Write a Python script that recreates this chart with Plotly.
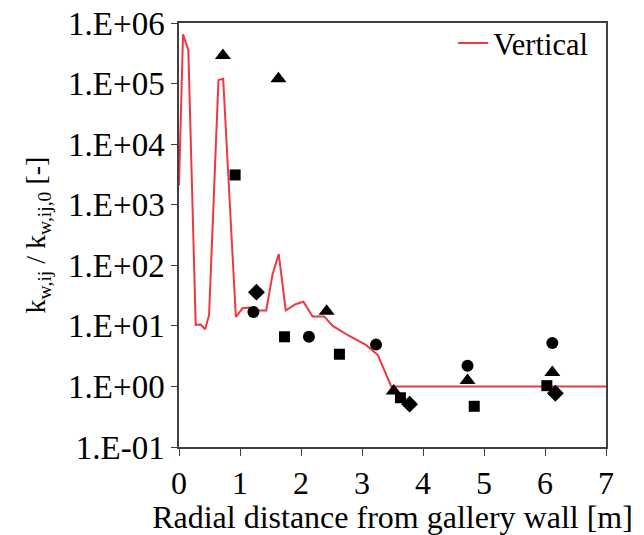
import plotly.graph_objects as go

# Red "Vertical" line (radial distance [m], k ratio [-])
line_x = [0.0, 0.066, 0.153, 0.274, 0.356, 0.428, 0.493, 0.647, 0.724, 0.932, 1.04, 1.15,
          1.26, 1.43, 1.535, 1.635, 1.75, 1.92, 2.04, 2.19, 2.38, 2.52, 2.77, 3.07, 3.26,
          3.48, 7.0]
line_y = [2100, 6.5e5, 3.6e5, 10.4, 10.5, 8.8, 15, 1.14e5, 1.2e5, 14, 19.5, 20,
          18, 18, 72, 153, 18, 23, 25, 14.3, 14.3, 10, 7.0, 4.8, 3.3,
          1.0, 1.0]

# Measured points
circle_x = [1.22, 2.13, 3.23, 4.73, 6.12]
circle_y = [17, 6.6, 4.9, 2.2, 5.2]
square_x = [0.92, 1.73, 2.63, 3.63, 4.84, 6.03]
square_y = [3100, 6.6, 3.4, 0.65, 0.47, 1.03]
triangle_x = [0.72, 1.63, 2.42, 3.52, 4.73, 6.12]
triangle_y = [2.9e5, 1.2e5, 17.5, 0.84, 1.25, 1.7]
diamond_x = [1.27, 3.78, 6.17]
diamond_y = [36, 0.51, 0.77]

y_tickvals = [1e-1, 1e0, 1e1, 1e2, 1e3, 1e4, 1e5, 1e6]
y_ticktext = ["1.E-01", "1.E+00", "1.E+01", "1.E+02", "1.E+03", "1.E+04", "1.E+05", "1.E+06"]
x_tickvals = [0, 1, 2, 3, 4, 5, 6, 7]

FONT = "Liberation Serif"

fig = go.Figure()
fig.add_trace(go.Scatter(x=line_x, y=line_y, mode="lines", name="Vertical",
                         line=dict(color="rgb(240,55,65)", width=2)))
for xs, ys, sym, sz in [(circle_x, circle_y, "circle", 12), (square_x, square_y, "square", 11),
                        (triangle_x, triangle_y, "triangle-up", 14), (diamond_x, diamond_y, "diamond", 13)]:
    fig.add_trace(go.Scatter(x=xs, y=ys, mode="markers", showlegend=False,
                             marker=dict(symbol=sym, color="black", size=sz,
                                         line=dict(width=0))))

fig.update_layout(
    template="none",
    width=644, height=535,
    margin=dict(l=179, r=38, t=23, b=88),
    paper_bgcolor="white", plot_bgcolor="white",
    font=dict(family=FONT, size=32, color="black"),
    showlegend=True,
    legend=dict(x=0.97, y=1.015, xanchor="right", yanchor="top",
                bgcolor="rgba(0,0,0,0)", font=dict(family=FONT, size=30.5, color="black"),
                itemwidth=30, tracegroupgap=0),
)
fig.update_xaxes(range=[0, 7], tickvals=x_tickvals, showgrid=False, zeroline=False,
                 showline=True, linecolor="#404040", linewidth=1.5, mirror=True,
                 ticks="outside", ticklen=7, tickcolor="#404040",
                 tickfont=dict(family=FONT, size=32, color="black"),
                 title=dict(text="Radial distance from gallery wall [m]",
                            font=dict(family=FONT, size=32, color="black"), standoff=4))
fig.update_yaxes(type="log", range=[-1, 6], tickvals=y_tickvals, ticktext=y_ticktext,
                 showgrid=False, zeroline=False,
                 showline=True, linecolor="#404040", linewidth=1.5, mirror=True,
                 ticks="outside", ticklen=6, tickcolor="#404040",
                 tickfont=dict(family=FONT, size=33, color="black"),
                 title=dict(text="k<sub>w,ij</sub> / k<sub>w,ij,0</sub> [-]",
                            font=dict(family=FONT, size=28, color="black"), standoff=14))

fig.write_html("out.html")
